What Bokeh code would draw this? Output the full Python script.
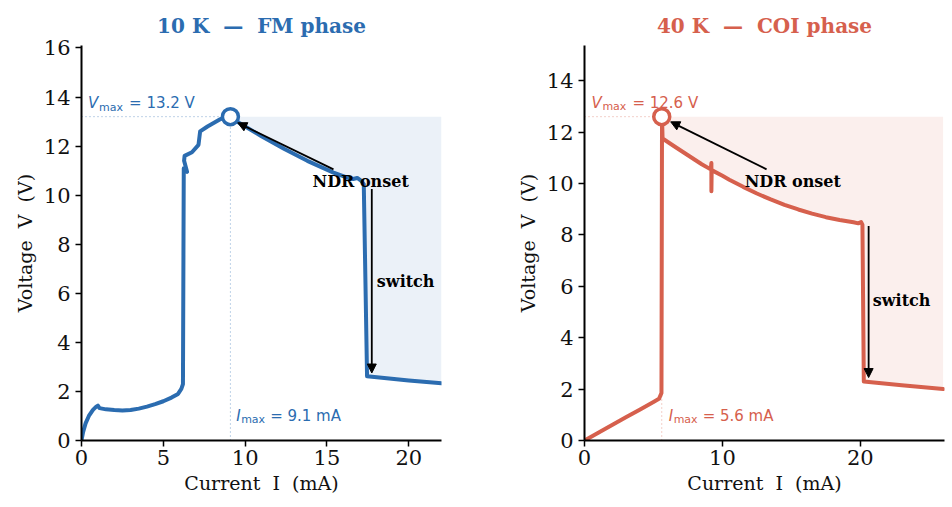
import numpy as np
from bokeh.plotting import figure
from bokeh.layouts import row
from bokeh.models import Arrow, NormalHead, Range1d, FixedTicker
from bokeh.core.properties import value
from bokeh.embed import file_html
from bokeh.resources import INLINE

# ---------------- data: 10 K (FM phase) ----------------
I_10K = [0.0, 0.1, 0.25, 0.45, 0.7, 0.9, 1.0, 1.1, 1.5, 2.0, 2.5, 3.0, 3.5, 4.0,
         4.5, 5.0, 5.5, 5.9, 6.1, 6.2, 6.25, 6.45, 6.27, 6.3, 6.75, 7.15, 7.25,
         7.7, 8.1, 8.5, 8.8, 9.1, 9.7, 11.0, 12.4, 13.8, 15.4, 16.2, 16.6,
         16.85, 17.1, 17.25, 17.45, 20.0, 22.0]
V_10K = [0.0, 0.35, 0.7, 1.0, 1.25, 1.38, 1.42, 1.32, 1.27, 1.24, 1.22, 1.24,
         1.3, 1.38, 1.48, 1.6, 1.75, 1.9, 2.1, 2.3, 11.1, 10.95, 11.4, 11.6,
         11.75, 12.05, 12.6, 12.8, 12.95, 13.1, 13.18, 13.2, 12.92, 12.4, 11.88,
         11.4, 10.92, 10.72, 10.66, 10.7, 10.58, 10.45, 2.62, 2.45, 2.33]
VMAX_10K = 13.2
IMAX_10K = 9.1

# ---------------- data: 40 K (COI phase) ----------------
I_40K = [0.0, 1.0, 2.0, 3.0, 4.0, 5.0, 5.4, 5.58, 5.62, 5.66, 6.5, 7.5, 8.5,
         9.15, 9.2, 9.2, 9.22, 10.0, 10.5, 11.5, 12.5, 13.5, 14.5, 15.5, 16.5,
         17.5, 18.5, 19.5, 19.85, 20.05, 20.15, 20.25, 23.0, 26.0]
V_40K = [0.0, 0.3, 0.6, 0.9, 1.2, 1.5, 1.62, 1.85, 12.6, 11.75, 11.45, 11.1,
         10.75, 10.55, 10.8, 9.7, 10.52, 10.3, 10.15, 9.87, 9.61, 9.38, 9.17,
         8.99, 8.83, 8.69, 8.58, 8.49, 8.45, 8.5, 8.4, 2.3, 2.15, 2.0]
VMAX_40K = 12.6
IMAX_40K = 5.6

BLUE = "#2b6cb0"
RED = "#d6604d"
SERIF = "DejaVu Serif"
SANS = "DejaVu Sans"
NB = "\u00a0"


def make_panel(I, V, vmax, imax, color, fill_color, title, xmax, ymax, xticks,
               yticks, border_left, border_right, ndr_text, ndr_from, ndr_to,
               sw_text, sw_from, sw_to, vlab, ilab, vlab_txt, ilab_txt):
    p = figure(width=476, height=507, x_range=Range1d(0, xmax),
               y_range=Range1d(0, ymax), output_backend="svg",
               toolbar_location=None, min_border_left=border_left,
               min_border_right=border_right, min_border_top=45,
               min_border_bottom=67)
    p.outline_line_color = None
    p.grid.visible = False
    p.background_fill_color = "white"
    p.border_fill_color = "white"

    p.title.text = title
    p.title.align = "center"
    p.title.text_font = SERIF
    p.title.text_font_style = "bold"
    p.title.text_font_size = "20px"
    p.title.text_color = color
    p.title.standoff = 15

    for ax in (p.xaxis, p.yaxis):
        ax.axis_line_width = 2
        ax.axis_line_color = "black"
        ax.major_tick_out = 6
        ax.major_tick_in = 0
        ax.major_tick_line_width = 1.5
        ax.minor_tick_line_color = None
        ax.major_label_text_font = SERIF
        ax.major_label_text_font_size = "21px"
        ax.major_label_text_color = "#111111"
        ax.axis_label_text_font = SERIF
        ax.axis_label_text_font_size = "19px"
        ax.axis_label_text_font_style = "normal"
        ax.axis_label_text_color = "#111111"
    p.xaxis.ticker = FixedTicker(ticks=xticks)
    p.yaxis.ticker = FixedTicker(ticks=yticks)
    p.xaxis.axis_label = "Current" + NB * 2 + "I" + NB * 2 + "(mA)"
    p.yaxis.axis_label = "Voltage" + NB * 2 + "V" + NB * 2 + "(V)"
    p.xaxis.axis_label_standoff = 4
    p.yaxis.axis_label_standoff = 5
    p.xaxis.major_label_standoff = 3
    p.yaxis.major_label_standoff = 5

    # shaded NDR region (between curve and Vmax, from the peak on)
    k = int(np.argmax(V))
    Ia = np.array(I[k:], dtype=float)
    Va = np.array(V[k:], dtype=float)
    p.varea(x=Ia, y1=Va, y2=np.full_like(Va, vmax), fill_color=fill_color,
            fill_alpha=1.0)

    # guide lines
    p.line([0, imax], [vmax, vmax], line_color=color, line_alpha=0.6,
           line_width=1, line_dash="1 3")
    p.line([imax, imax], [0, vmax], line_color=color, line_alpha=0.6,
           line_width=1, line_dash="1 3")

    # curve
    p.line(I, V, line_color=color, line_width=4, line_join="round",
           line_cap="round")

    # peak marker
    p.scatter([imax], [vmax], marker="circle", size=16, line_color=color,
              line_width=3.5, fill_color="white")

    # arrows
    p.add_layout(Arrow(end=NormalHead(size=9, fill_color="black",
                                      line_color="black"),
                       x_start=ndr_from[0], y_start=ndr_from[1],
                       x_end=ndr_to[0], y_end=ndr_to[1],
                       line_color="black", line_width=1.8))
    p.add_layout(Arrow(end=NormalHead(size=9, fill_color="black",
                                      line_color="black"),
                       x_start=sw_from[0], y_start=sw_from[1],
                       x_end=sw_to[0], y_end=sw_to[1],
                       line_color="black", line_width=1.8))

    p.text([ndr_text[0]], [ndr_text[1]], text=["NDR onset"],
           text_font=value(SERIF), text_font_style="bold",
           text_font_size="16px", text_color="black", text_align="center",
           text_baseline="middle")
    p.text([sw_text[0]], [sw_text[1]], text=["switch"],
           text_font=value(SERIF), text_font_style="bold",
           text_font_size="16px", text_color="black", text_align="left",
           text_baseline="middle")

    # Vmax label
    for txt, dx, dy, size, style in (("V", 0, 0, "15px", "italic"),
                                     ("max", 11, 4, "11px", "normal"),
                                     (vlab_txt, 41, 0, "15px", "normal")):
        p.text([vlab[0]], [vlab[1]], text=[txt], x_offset=dx, y_offset=dy,
               text_font=value(SANS), text_font_style=style,
               text_font_size=size, text_color=color, text_align="left",
               text_baseline="middle")
    # Imax label
    for txt, dx, dy, size, style in (("I", 0, 0, "15px", "italic"),
                                     ("max", 5, 4, "11px", "normal"),
                                     (ilab_txt, 34, 0, "15px", "normal")):
        p.text([ilab[0]], [ilab[1]], text=[txt], x_offset=dx, y_offset=dy,
               text_font=value(SANS), text_font_style=style,
               text_font_size=size, text_color=color, text_align="left",
               text_baseline="middle")
    return p


p1 = make_panel(I_10K, V_10K, VMAX_10K, IMAX_10K, BLUE, "#ebf1f8",
                "10 K" + NB * 2 + "\u2014" + NB * 2 + "FM phase", 22.0, 16.1,
                [0, 5, 10, 15, 20], list(range(0, 17, 2)), 81, 35,
                (17.06, 10.55), (15.4, 11.05), (9.55, 12.95),
                (18.05, 6.5), (17.74, 10.25), (17.74, 2.75),
                (0.4, 13.75), (9.45, 1.0),
                "= %.1f V" % VMAX_10K, "= %.1f mA" % IMAX_10K)

p2 = make_panel(I_40K, V_40K, VMAX_40K, IMAX_40K, RED, "#fbefed",
                "40 K" + NB * 2 + "\u2014" + NB * 2 + "COI phase", 26.1, 15.37,
                [0, 10, 20], list(range(0, 15, 2)), 108, 8,
                (15.1, 10.08), (13.2, 10.55), (6.25, 12.4),
                (20.9, 5.45), (20.6, 8.35), (20.6, 2.45),
                (0.5, 13.15), (6.1, 0.97),
                "= %.1f V" % VMAX_40K, "= %.1f mA" % IMAX_40K)

layout = row(p1, p2)
open("out.html", "w").write(file_html(layout, INLINE))
